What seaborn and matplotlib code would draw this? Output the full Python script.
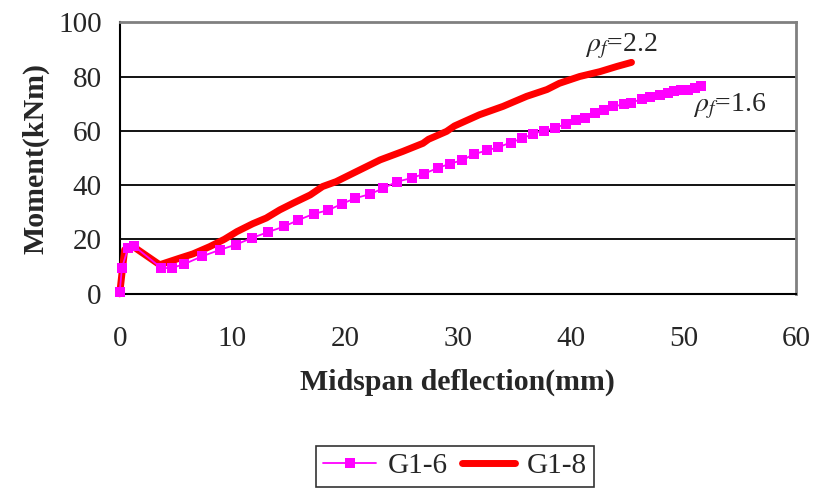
import pandas as pd
import seaborn as sns
import matplotlib
matplotlib.use("Agg")
import matplotlib.pyplot as plt


# G1-6 (rho_f = 1.6)
g16_defl = [0.0, 0.2, 0.74, 1.24, 3.7, 4.6, 5.7, 7.3, 8.9, 10.3, 11.7, 13.2, 14.6,
            15.8, 17.2, 18.5, 19.7, 20.9, 22.2, 23.4, 24.6, 25.9, 27.0, 28.2,
            29.3, 30.4, 31.4, 32.6, 33.6, 34.7, 35.7, 36.7, 37.6, 38.6, 39.6,
            40.5, 41.3, 42.2, 43.0, 43.8, 44.7, 45.4, 46.3, 47.0, 47.9, 48.6,
            49.2, 49.8, 50.4, 51.0, 51.6]
g16_moment = [0.5, 9.5, 16.8, 17.7, 9.5, 9.5, 10.9, 13.8, 16.2, 18.1, 20.5, 22.8,
              24.8, 27.1, 29.4, 30.8, 33.1, 35.2, 36.7, 38.9, 41.3, 42.6, 44.2,
              46.3, 47.9, 49.2, 51.4, 52.8, 54.0, 55.7, 57.2, 58.9, 60.1, 61.0,
              62.6, 64.1, 64.8, 66.5, 67.7, 69.0, 69.7, 70.3, 71.8, 72.5, 73.2,
              74.0, 74.6, 75.2, 75.2, 75.8, 76.6]

# G1-8 (rho_f = 2.2)
g18_defl = [0.0, 0.44, 1.1, 3.55, 5.3, 6.5, 8.0, 9.3, 10.4, 11.8, 13.0, 14.2,
            15.4, 16.9, 18.0, 19.2, 21.0, 23.1, 25.1, 26.9, 27.4, 29.0, 29.7,
            31.9, 34.0, 36.1, 37.9, 39.0, 40.8, 42.6, 44.1, 45.4]
g18_moment = [0.0, 16.2, 17.7, 10.7, 13.1, 14.7, 17.4, 20.1, 22.9, 25.8, 27.9,
              30.9, 33.4, 36.4, 39.5, 41.3, 45.0, 49.3, 52.4, 55.4, 56.9, 59.8,
              61.8, 65.9, 69.0, 72.7, 75.2, 77.5, 80.0, 81.8, 83.7, 85.2]

x_ticks = [0, 10, 20, 30, 40, 50, 60]
y_ticks = [0, 20, 40, 60, 80, 100]

sns.set_style("white")
plt.rcParams["font.family"] = ["Liberation Serif", "DejaVu Serif"]
plt.rcParams["mathtext.fontset"] = "stix"
matplotlib.rc("font", size=21)

g16 = pd.DataFrame({"defl": g16_defl, "moment": g16_moment})
g18 = pd.DataFrame({"defl": g18_defl, "moment": g18_moment})

fig = plt.figure(figsize=(8.14, 4.93), dpi=100)
ax = fig.add_axes([0.147, 0.404, 0.831, 0.551])

# magenta series sits on top of the thick red line
sns.lineplot(x="defl", y="moment", data=g16, ax=ax, sort=False, estimator=None,
             color="#ff00ff", linewidth=1.3, marker="s", markersize=7.5,
             markeredgewidth=0, label="G1-6", zorder=4, clip_on=False)
sns.lineplot(x="defl", y="moment", data=g18, ax=ax, sort=False, estimator=None,
             color="#ff0000", linewidth=5, marker="s", markersize=3,
             markeredgewidth=0, label="G1-8", zorder=3, clip_on=False)

ax.set_xlim(0, 60)
ax.set_ylim(0, 100)
ax.set_xticks(x_ticks)
ax.set_yticks(y_ticks)
ax.yaxis.grid(True, color="black", linewidth=1.3)
ax.set_axisbelow(True)
for side in ["top", "right"]:
    ax.spines[side].set_color("#808080")
    ax.spines[side].set_linewidth(2)
for side in ["left", "bottom"]:
    ax.spines[side].set_color("black")
    ax.spines[side].set_linewidth(1.5)
ax.tick_params(axis="both", direction="out", length=7, width=1.3,
               color="black", labelsize=21, pad=6)
ax.tick_params(axis="x", pad=16)

ax.set_xlabel("Midspan deflection(mm)", fontsize=21.5, fontweight="bold", labelpad=12)
ax.set_ylabel("Moment(kNm)", fontsize=21.5, fontweight="bold", labelpad=6)

ax.text(41.3, 91, r"$\rho_f$=2.2", fontsize=20, va="center", ha="left")
ax.text(50.9, 69, r"$\rho_f$=1.6", fontsize=20, va="center", ha="left")

leg = ax.legend(loc="center", bbox_to_anchor=(0.5 * (325 + 585) / 814, 1 - 466 / 493),
                bbox_transform=fig.transFigure, ncol=2, frameon=True, fancybox=False,
                edgecolor="black", fontsize=21, handlelength=1.8, columnspacing=0.5,
                handletextpad=0.4, borderpad=0.25)
leg.get_frame().set_linewidth(1.2)

plt.savefig("out.png", dpi=100)
